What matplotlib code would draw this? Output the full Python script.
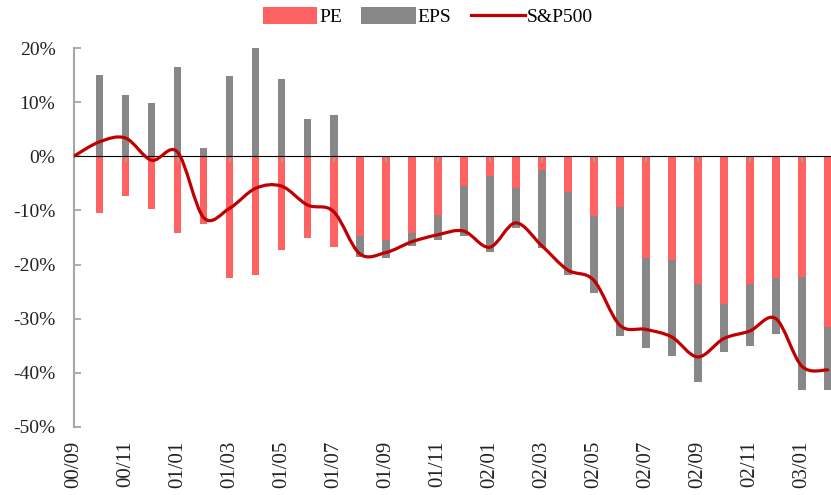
import numpy as np
import matplotlib
matplotlib.use("Agg")
import matplotlib.pyplot as plt
from matplotlib.path import Path
from matplotlib.patches import PathPatch
from matplotlib.lines import Line2D
from matplotlib.patches import Patch

plt.rcParams['font.family'] = ['Liberation Serif', 'DejaVu Serif']

months = ['00/09', '00/10', '00/11', '00/12',
          '01/01', '01/02', '01/03', '01/04', '01/05', '01/06',
          '01/07', '01/08', '01/09', '01/10', '01/11', '01/12',
          '02/01', '02/02', '02/03', '02/04', '02/05', '02/06',
          '02/07', '02/08', '02/09', '02/10', '02/11', '02/12',
          '03/01', '03/02']

pe = [0.0, -10.5, -7.3, -9.8, -14.1, -12.5, -22.4, -21.9, -17.3, -15.0,
      -16.8, -14.8, -15.4, -14.2, -10.9, -5.4, -3.7, -5.9, -2.6, -6.6,
      -11.1, -9.4, -18.7, -19.2, -23.6, -27.3, -23.6, -22.4, -22.3, -31.5]

eps = [0.0, 15.0, 11.4, 9.9, 16.6, 1.6, 14.9, 20.0, 14.3, 7.0,
       7.7, -3.8, -3.3, -2.4, -4.5, -9.4, -14.0, -7.3, -14.3, -15.4,
       -14.2, -23.9, -16.8, -17.8, -18.1, -8.9, -11.5, -10.4, -21.0, -11.8]

sp500 = [0.0, 2.7, 3.4, -0.7, 0.8, -11.3, -9.6, -5.9, -5.5, -9.0,
         -10.2, -18.0, -17.8, -15.8, -14.5, -13.8, -16.8, -12.3, -16.5, -21.0,
         -22.9, -31.2, -32.0, -33.4, -37.1, -33.7, -32.3, -30.0, -38.8, -39.5]

yticks = [20, 10, 0, -10, -20, -30, -40, -50]

PE_COLOR = '#FF6262'
EPS_COLOR = '#878787'
LINE_COLOR = '#C00000'
AXIS_COLOR = '#A6A6A6'

fig = plt.figure(figsize=(8.31, 4.95), dpi=100)
left = 73.5 / 831
bottom = 1 - 426.7 / 495
height = (426.7 - 48.3) / 495
width = 30 * 26.01 / 831
ax = fig.add_axes([left, bottom, width, height])

x = np.arange(len(months))
pe_a = np.array(pe)
eps_a = np.array(eps)
eps_bottom = np.where(np.sign(eps_a) == np.sign(pe_a), pe_a, 0.0)

bw = 0.3
ax.bar(x, pe_a, width=bw, color=PE_COLOR, zorder=2)
ax.bar(x, eps_a, width=bw, bottom=eps_bottom, color=EPS_COLOR, zorder=2)

# smooth line (Catmull-Rom style cubic Bezier through the data points)
y = np.array(sp500)
pts = np.column_stack([x.astype(float), y])
ext = np.vstack([pts[0], pts, pts[-1]])
verts = [tuple(pts[0])]
codes = [Path.MOVETO]
for i in range(len(pts) - 1):
    p0, p1, p2, p3 = ext[i], ext[i + 1], ext[i + 2], ext[i + 3]
    c1 = p1 + (p2 - p0) / 6.0
    c2 = p2 - (p3 - p1) / 6.0
    verts += [tuple(c1), tuple(c2), tuple(p2)]
    codes += [Path.CURVE4] * 3
ax.add_patch(PathPatch(Path(verts, codes), facecolor='none',
                       edgecolor=LINE_COLOR, lw=2.3, zorder=4,
                       capstyle='round', joinstyle='round'))

ax.set_xlim(0, 30)
ax.set_ylim(-50, 20)

# y axis
ax.set_yticks(yticks)
ax.set_yticklabels([f'{v}%' for v in yticks])
ax.tick_params(axis='y', direction='in', length=5, width=1.3,
               color=AXIS_COLOR, pad=13, labelsize=14, labelcolor='#222222')
for s in ['top', 'right', 'bottom']:
    ax.spines[s].set_visible(False)
ax.spines['left'].set_color(AXIS_COLOR)
ax.spines['left'].set_linewidth(1.5)

# x labels at bottom
ax.set_xticks(x[::2])
ax.set_xticklabels(months[::2], rotation=90, va='top', ha='center')
ax.tick_params(axis='x', length=0, pad=10, labelsize=15, labelcolor='#222222')

# zero line with small ticks
sec = ax.secondary_xaxis(50 / 70)
sec.set_xticks(x[::2])
sec.set_xticklabels([])
sec.tick_params(axis='x', direction='in', length=4, width=1.2, color=AXIS_COLOR)
sec.spines['bottom'].set_color(AXIS_COLOR)
sec.spines['bottom'].set_linewidth(1.5)
sec.set_zorder(3)

handles = [Patch(facecolor=PE_COLOR, edgecolor='none', label='PE'),
           Patch(facecolor=EPS_COLOR, edgecolor='none', label='EPS'),
           Line2D([0], [0], color=LINE_COLOR, lw=2.3, label='S&P500')]
fig.legend(handles=handles, loc='center', bbox_to_anchor=(0.515, 0.966),
           ncol=3, frameon=False, fontsize=14, handlelength=2.8,
           handleheight=0.9, handletextpad=0.1, columnspacing=1.0)

fig.savefig('out.png', dpi=100)
